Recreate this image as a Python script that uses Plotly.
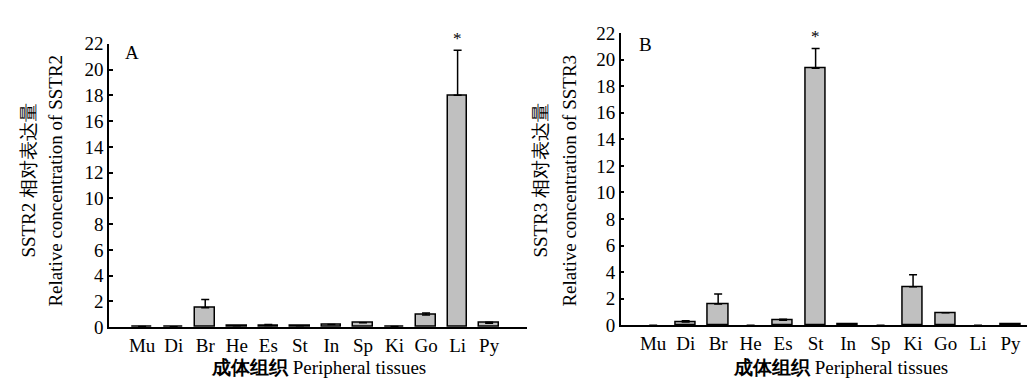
import plotly.graph_objects as go

tissues = ["Mu", "Di", "Br", "He", "Es", "St", "In", "Sp", "Ki", "Go", "Li", "Py"]
sstr2_mean = [0.05, 0.03, 1.5, 0.1, 0.12, 0.1, 0.2, 0.35, 0.05, 0.95, 18.0, 0.3]
sstr2_err = [0.0, 0.0, 0.65, 0.0, 0.08, 0.0, 0.0, 0.0, 0.0, 0.15, 3.5, 0.08]
sstr3_mean = [0.0, 0.25, 1.6, 0.0, 0.38, 19.35, 0.05, 0.0, 2.9, 0.95, 0.0, 0.05]
sstr3_err = [0.0, 0.1, 0.75, 0.0, 0.07, 1.5, 0.0, 0.0, 0.9, 0.0, 0.0, 0.0]
yticks = [0, 2, 4, 6, 8, 10, 12, 14, 16, 18, 20, 22]

FONT = "Liberation Serif"
pos = list(range(len(tissues)))

fig = go.Figure()
for xa, ya, mean, err in [("x", "y", sstr2_mean, sstr2_err), ("x2", "y2", sstr3_mean, sstr3_err)]:
    fig.add_trace(go.Bar(
        x=pos, y=mean, width=0.62, xaxis=xa, yaxis=ya,
        marker=dict(color="#c0c0c0",
                    line=dict(color="black", width=[1.5 if m > 0 else 0 for m in mean])),
        error_y=dict(type="data", array=[e if e > 0 else None for e in err],
                     arrayminus=[0] * len(err), symmetric=False,
                     color="black", thickness=1.5, width=4),
        showlegend=False, hoverinfo="skip",
    ))

axis_common = dict(showline=True, linecolor="black", linewidth=1.5, showgrid=False,
                   zeroline=False, tickfont=dict(family=FONT, size=19, color="black"))

fig.update_layout(
    width=1035, height=385, margin=dict(l=0, r=0, t=0, b=0),
    paper_bgcolor="white", plot_bgcolor="white", bargap=0,
    font=dict(family=FONT, size=18, color="black"),
    xaxis=dict(domain=[101 / 1035, 519 / 1035], range=[-1.05, 12.2], tickvals=pos, ticktext=tissues,
               ticks="", anchor="y", **axis_common),
    yaxis=dict(domain=[1 - 327 / 385, 1 - 27.3 / 385], range=[0, 22], tickvals=yticks,
               ticks="inside", ticklen=4, tickwidth=1.5, tickcolor="black", anchor="x", **axis_common),
    xaxis2=dict(domain=[612.7 / 1035, 1.0], range=[-1.0, 12.0], tickvals=pos, ticktext=tissues,
                ticks="", anchor="y2", **axis_common),
    yaxis2=dict(domain=[1 - 325 / 385, 1 - 16 / 385], range=[0, 22], tickvals=yticks,
                ticks="inside", ticklen=4, tickwidth=1.5, tickcolor="black", anchor="x2", **axis_common),
)

tf = dict(family=FONT, size=19, color="black")
ann = [
    dict(text="A", x=124 / 1035, y=1 - 36 / 385),
    dict(text="B", x=637 / 1035, y=1 - 28 / 385),
    dict(text="<b>成体组织</b> Peripheral tissues", x=310 / 1035, y=1 - 370 / 385),
    dict(text="<b>成体组织</b> Peripheral tissues", x=832 / 1035, y=1 - 370 / 385),
    dict(text="SSTR2 相对表达量", x=21 / 1035, y=1 - 172 / 385, textangle=-90),
    dict(text="Relative concentration of SSTR2", x=48 / 1035, y=1 - 172 / 385, textangle=-90),
    dict(text="SSTR3 相对表达量", x=533 / 1035, y=1 - 172 / 385, textangle=-90),
    dict(text="Relative concentration of SSTR3", x=562 / 1035, y=1 - 172 / 385, textangle=-90),
]
for a in ann:
    fig.add_annotation(xref="paper", yref="paper", showarrow=False, font=tf,
                       xanchor="center", yanchor="middle", **a)

# significance asterisks
fig.add_annotation(x=10, y=21.5, xref="x", yref="y", text="*", showarrow=False,
                   font=dict(family=FONT, size=17, color="black"), yanchor="bottom")
fig.add_annotation(x=5, y=20.85, xref="x2", yref="y2", text="*", showarrow=False,
                   font=dict(family=FONT, size=17, color="black"), yanchor="bottom")

fig.write_html("out.html")
